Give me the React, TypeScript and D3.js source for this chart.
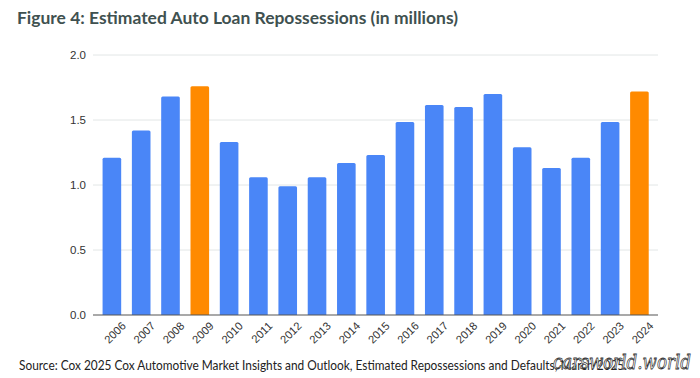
import React from "react";
import * as d3 from "d3";

const years = ["2006","2007","2008","2009","2010","2011","2012","2013","2014","2015","2016","2017","2018","2019","2020","2021","2022","2023","2024"];
const repossessions = [1.21,1.42,1.68,1.76,1.33,1.06,0.99,1.06,1.17,1.23,1.485,1.615,1.60,1.70,1.29,1.13,1.21,1.485,1.72];
const highlighted = ["2009","2024"];
const yTicks = [0, 0.5, 1.0, 1.5, 2.0];
const title = "Figure 4: Estimated Auto Loan Repossessions (in millions)";
const source = "Source: Cox 2025 Cox Automotive Market Insights and Outlook, Estimated Repossessions and Defaults, March 2025.";
const watermark = "carsworld.world";

export default function App() {
  const W = 700, H = 378;
  const x = d3.scaleBand<string>().domain(years).range([97.3, 654]).paddingInner(0.365).paddingOuter(0.18);
  const y = d3.scaleLinear().domain([0, 2]).range([315, 55]);
  const bw = x.bandwidth();
  return (
    <svg width={W} height={H} style={{ position: "absolute", left: 0, top: 0, background: "#fff" }}>
      <rect width={W} height={H} fill="#fff" />
      <text x={17} y={24} fontFamily="Lato, 'Open Sans', sans-serif" fontWeight={700} fontSize={17.5} fill="#3f5150" textLength={441} lengthAdjust="spacingAndGlyphs">{title}</text>
      {yTicks.map((t) => (
        <g key={t}>
          {t !== 0 && <line x1={93} x2={658} y1={y(t)} y2={y(t)} stroke="#e2e6e6" strokeWidth={1} />}
          <text x={86} y={y(t) + 4} textAnchor="end" fontFamily="Arial, 'Liberation Sans', sans-serif" fontSize={11.5} fill="#333">{t.toFixed(1)}</text>
        </g>
      ))}
      {years.map((yr, i) => {
        const x0 = x(yr)!;
        const top = y(repossessions[i]);
        const r = 1.5;
        const path = `M${x0},315 L${x0},${top + r} Q${x0},${top} ${x0 + r},${top} L${x0 + bw - r},${top} Q${x0 + bw},${top} ${x0 + bw},${top + r} L${x0 + bw},315 Z`;
        return <path key={yr} d={path} fill={highlighted.includes(yr) ? "#ff8a00" : "#4a86f7"} />;
      })}
      <line x1={93} x2={658} y1={315} y2={315} stroke="#555" strokeWidth={1.2} />
      {years.map((yr) => {
        const cx = x(yr)! + bw / 2 + 9;
        const cy = 321;
        return (
          <text key={yr} x={cx} y={cy} transform={`rotate(-45 ${cx} ${cy})`} textAnchor="end" dominantBaseline="hanging" fontFamily="Arial, 'Liberation Sans', sans-serif" fontSize={11.2} fill="#333">{yr}</text>
        );
      })}
      <text x={19} y={370} fontFamily="Lato, 'Open Sans', sans-serif" fontSize={12.5} fill="#222" textLength={608} lengthAdjust="spacingAndGlyphs">{source}</text>
      <text x={553} y={369} fontFamily="'DejaVu Serif', serif" fontStyle="italic" fontSize={21} fill="#fff" stroke="#333" strokeWidth={0.8} textLength={138} lengthAdjust="spacingAndGlyphs">{watermark}</text>
    </svg>
  );
}
